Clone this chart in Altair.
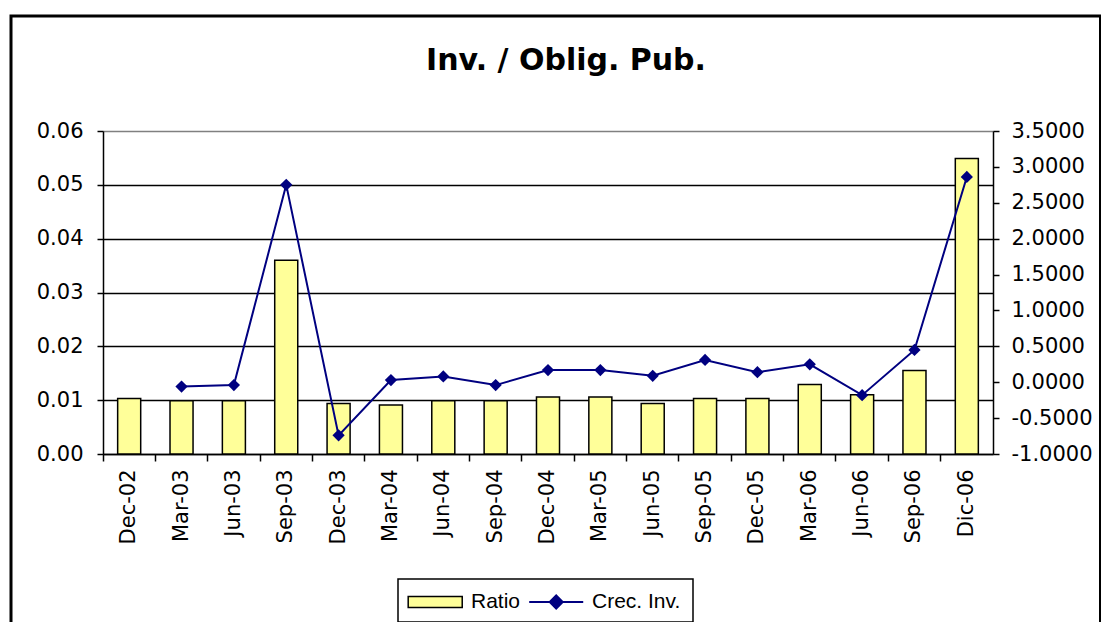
import altair as alt
import pandas as pd

periods = ["Dec-02", "Mar-03", "Jun-03", "Sep-03", "Dec-03", "Mar-04", "Jun-04", "Sep-04",
           "Dec-04", "Mar-05", "Jun-05", "Sep-05", "Dec-05", "Mar-06", "Jun-06", "Sep-06", "Dic-06"]
ratio = [0.0103, 0.0099, 0.0099, 0.0360, 0.0094, 0.0091, 0.0099, 0.0099,
         0.0106, 0.0106, 0.0094, 0.0103, 0.0103, 0.0129, 0.0110, 0.0155, 0.0549]
crec = [None, -0.06, -0.04, 2.75, -0.74, 0.03, 0.08, -0.04,
        0.17, 0.17, 0.09, 0.31, 0.14, 0.25, -0.18, 0.45, 2.86]

left_ticks = [0.0, 0.01, 0.02, 0.03, 0.04, 0.05, 0.06]
right_ticks = [-1.0, -0.5, 0.0, 0.5, 1.0, 1.5, 2.0, 2.5, 3.0, 3.5]

df = pd.DataFrame({"period": periods, "ratio": ratio, "crec": crec})

rect_path = "M-1,-0.5L4,-0.5L4,0.5L-1,0.5Z"
line_path = "M-1,0L4,0M0.9,0L1.5,-0.6L2.1,0L1.5,0.6Z"

font = "DejaVu Sans"
legend_common = dict(title=None, orient="none", direction="horizontal",
                     labelFont="Liberation Sans", labelFontSize=21, labelColor="black",
                     symbolSize=467, labelOffset=40, padding=0)

ratio_legend = alt.Legend(legendX=304, legendY=459, symbolType=rect_path,
                          symbolStrokeColor="black", symbolStrokeWidth=1.5, symbolOpacity=1,
                          **legend_common)
crec_legend = alt.Legend(legendX=425, legendY=459, symbolType=line_path,
                         symbolFillColor="#000080", symbolStrokeColor="#000080",
                         symbolStrokeWidth=2, symbolOpacity=1, **legend_common)

x_label_axis = alt.Axis(title=None, orient="bottom", labelAngle=-90, ticks=False,
                        labelFont=font, labelFontSize=21, labelColor="black", labelPadding=15,
                        domainColor="black", domainWidth=1.5, grid=False)
x_tick_axis = alt.Axis(title=None, orient="bottom", labels=False, ticks=True, tickSize=7,
                       tickColor="black", tickWidth=1.5, domain=False, grid=False, bandPosition=0)

left_axis = alt.Axis(title=None, values=left_ticks, format=".2f",
                     labelFont=font, labelFontSize=21, labelColor="black", labelPadding=14,
                     tickSize=6, tickColor="black", tickWidth=1.5,
                     domainColor="black", domainWidth=1.5,
                     grid=True, gridWidth=1.5,
                     gridColor={"condition": {"test": "datum.value >= 0.059", "value": "#808080"},
                                "value": "black"})
right_axis = alt.Axis(title=None, orient="right", values=right_ticks,
                      labelExpr="replace(format(datum.value, '.4f'), '\u2212', '-')",
                      labelFont=font, labelFontSize=21, labelColor="black", labelPadding=12,
                      tickSize=6, tickColor="black", tickWidth=1.5,
                      domainColor="black", domainWidth=1.5, grid=False)

xscale = alt.Scale(paddingInner=0, paddingOuter=0)

border = alt.Chart(pd.DataFrame({"b": [0]})).mark_rect(
    fillOpacity=0, stroke="black", strokeWidth=3
).encode(x=alt.value(-92), x2=alt.value(997.5), y=alt.value(-115), y2=alt.value(560))

legend_box = alt.Chart(pd.DataFrame({"b": [0]})).mark_rect(
    fill="white", stroke="black", strokeWidth=1.5
).encode(x=alt.value(295), x2=alt.value(590), y=alt.value(448), y2=alt.value(491))

bars = alt.Chart(df).transform_calculate(series="'Ratio'").mark_bar(
    stroke="black", strokeWidth=1.5, width=alt.RelativeBandSize(0.44)
).encode(
    x=alt.X("period:N", sort=periods, scale=xscale, axis=x_label_axis),
    y=alt.Y("ratio:Q", scale=alt.Scale(domain=[0, 0.06]), axis=left_axis),
    fill=alt.Fill("series:N", scale=alt.Scale(domain=["Ratio"], range=["#FFFF99"]), legend=ratio_legend),
)

line = alt.Chart(df).transform_calculate(series="'Crec. Inv.'").mark_line(
    strokeWidth=2,
    point=alt.OverlayMarkDef(shape="diamond", size=150, filled=True),
).encode(
    x=alt.X("period:N", sort=periods, scale=xscale, axis=x_tick_axis),
    y=alt.Y("crec:Q", scale=alt.Scale(domain=[-1, 3.5]), axis=right_axis),
    color=alt.Color("series:N", scale=alt.Scale(domain=["Crec. Inv."], range=["#000080"]), legend=crec_legend),
)

chart = alt.layer(border, legend_box, bars, line).resolve_scale(y="independent").resolve_axis(
    x="independent", y="independent"
).properties(
    width=890, height=323,
    padding={"left": 95, "top": 123, "right": 108, "bottom": 168},
    autosize=alt.AutoSizeParams(type="none"),
    title=alt.Title("Inv. / Oblig. Pub.", font=font, fontSize=30, fontWeight="bold",
                    color="black", anchor="middle", frame="group", dx=18, offset=5, dy=66),
).configure_view(fill="#C0C0C0", stroke="#808080", strokeWidth=1.5).configure(background="white")

chart.save("out.html", embed_options={"renderer": "svg", "actions": False})
